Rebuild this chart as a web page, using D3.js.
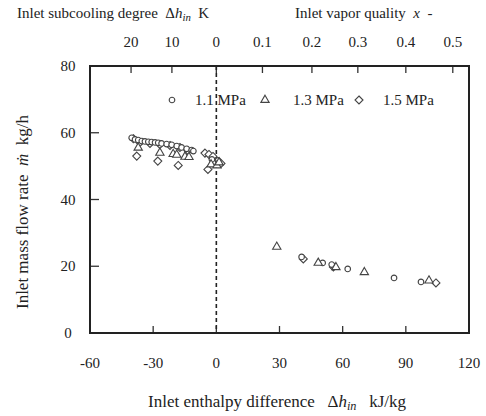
<!DOCTYPE html>
<html><head><meta charset="utf-8">
<script src="https://cdn.jsdelivr.net/npm/d3@7"></script>
<style>body{margin:0;background:#fff}svg{display:block}text{font-family:"Liberation Serif","DejaVu Serif",serif;fill:#222}</style>
</head><body><svg id="c" width="486" height="416"></svg>
<script>
// data: [enthalpy difference kJ/kg, mass flow kg/h]
const p11 = [[-40.2,58.5],[-38.6,58.0],[-37.1,57.8],[-35.4,57.5],[-33.9,57.4],[-32.3,57.3],[-30.7,57.2],[-29.1,57.1],[-27.6,57.0],[-26.0,56.8],[-23.6,56.6],[-21.2,56.4],[-18.8,56.0],[-16.5,55.6],[-14.1,55.2],[-11.7,54.8],[-10.9,54.5],[-2.1,52.0],[0.8,51.7],[40.5,22.8],[50.5,21.0],[54.8,20.5],[62.4,19.2],[84.4,16.5],[97.2,15.3]];
const p13 = [[-37.1,55.5],[-26.8,54.0],[-20.5,53.6],[-18.8,53.4],[-14.9,52.8],[-13.0,52.7],[-2.5,50.5],[0.3,50.2],[1.3,51.1],[28.7,25.8],[48.4,21.0],[56.8,19.7],[70.3,18.2],[101.0,15.7]];
const p15 = [[-39.4,58.2],[-36.3,57.1],[-31.5,56.8],[-26.8,56.5],[-22.0,56.2],[-17.3,55.6],[-13.5,54.7],[-37.8,53.0],[-27.8,51.5],[-18.1,50.2],[-5.4,53.9],[-3.5,53.5],[-1.6,52.9],[-4.0,49.0],[2.2,50.8],[41.3,22.2],[55.6,19.8],[104.3,15.0]];
const xTicks = [-60,-30,0,30,60,90,120];
const yTicks = [0,20,40,60,80];
const topLabels = ["20","10","0","0.1","0.2","0.3","0.4","0.5"];
const topPos = [-40.5,-21.1,0,21.9,45.4,67.2,90,112.3];
const legendNames = ["1.1 MPa","1.3 MPa","1.5 MPa"];

const svg = d3.select("#c");
const L=90,R=469,T=66,B=333;
const x = d3.scaleLinear().domain([-60,120]).range([L,R]);
const y = d3.scaleLinear().domain([0,80]).range([B,T]);
const S="\u00a0";

// ticks
const g = svg.append("g");
g.selectAll(".xt").data(xTicks.slice(1,-1)).join("line")
 .attr("x1",d=>x(d)).attr("x2",d=>x(d)).attr("y1",B).attr("y2",B-7).attr("stroke","#333").attr("stroke-width",1.3);
g.selectAll(".yt").data(yTicks.slice(1,-1)).join("line")
 .attr("y1",d=>y(d)).attr("y2",d=>y(d)).attr("x1",L).attr("x2",L+9).attr("stroke","#333").attr("stroke-width",1.3);
g.selectAll(".tt").data(topPos).join("line")
 .attr("x1",d=>x(d)).attr("x2",d=>x(d)).attr("y1",T).attr("y2",T+7).attr("stroke","#333").attr("stroke-width",1.3);

// dashed zero line
svg.append("line").attr("x1",x(0)).attr("x2",x(0)).attr("y1",T).attr("y2",B)
 .attr("stroke","#222").attr("stroke-width",1.6).attr("stroke-dasharray","4,3");

// frame
svg.append("rect").attr("x",L).attr("y",T).attr("width",R-L).attr("height",B-T)
 .attr("fill","none").attr("stroke","#222").attr("stroke-width",2);

// tick labels
svg.selectAll(".xl").data(xTicks).join("text").attr("x",d=>x(d)).attr("y",368)
 .attr("text-anchor","middle").attr("font-size",15).text(d=>d);
svg.selectAll(".yl").data(yTicks).join("text").attr("x",68).attr("y",d=>y(d)+5)
 .attr("text-anchor","middle").attr("font-size",15).text(d=>d);
svg.selectAll(".tl").data(topLabels).join("text").attr("x",(d,i)=>x(topPos[i])).attr("y",47)
 .attr("text-anchor","middle").attr("font-size",15).text(d=>d);

// markers
const stroke="#444";
function circ(sel){sel.append("circle").attr("r",2.8).attr("fill","#fff").attr("stroke",stroke).attr("stroke-width",1.1);}
const triPath=d3.symbol().type(d3.symbolTriangle).size(30);
const diaPath="M0,-4L4,0L0,4L-4,0Z";
function tri(sel){sel.append("path").attr("d",triPath).attr("fill","#fff").attr("stroke",stroke).attr("stroke-width",1.1);}
function dia(sel){sel.append("path").attr("d",diaPath).attr("fill","#fff").attr("stroke",stroke).attr("stroke-width",1.1);}
const pts = svg.append("g");
pts.selectAll(".p15").data(p15).join("g").attr("transform",d=>`translate(${x(d[0])},${y(d[1])})`).call(dia);
pts.selectAll(".p11").data(p11).join("g").attr("transform",d=>`translate(${x(d[0])},${y(d[1])})`).call(circ);
pts.selectAll(".p13").data(p13).join("g").attr("transform",d=>`translate(${x(d[0])},${y(d[1])})`).call(tri);

// legend
const lg=[{mx:172,tx:195,f:circ},{mx:265,tx:293,f:tri},{mx:359,tx:383,f:dia}];
lg.forEach((o,i)=>{
  svg.append("g").attr("transform",`translate(${o.mx},100)`).call(o.f);
  svg.append("text").attr("x",o.tx).attr("y",105).attr("font-size",15).text(legendNames[i]);
});

// axis titles
function dh(t,xx,yy,fs,pre,rest){
  const tx=t.append("text").attr("x",xx).attr("y",yy).attr("font-size",fs);
  tx.append("tspan").text(pre);
  tx.append("tspan").text("Δ");
  tx.append("tspan").attr("font-style","italic").text("h");
  tx.append("tspan").attr("font-style","italic").attr("font-size",fs*0.72).attr("dy",3).text("in");
  tx.append("tspan").attr("dy",-3).text(rest);
  return tx;
}
dh(svg,148,407,17,"Inlet enthalpy difference"+S+S+S,S+S+S+"kJ/kg");
dh(svg,17,18,15,"Inlet subcooling degree"+S+S,S+S+"K");
const vq=svg.append("text").attr("x",295).attr("y",18).attr("font-size",15);
vq.append("tspan").text("Inlet vapor quality"+S+S);
vq.append("tspan").attr("font-style","italic").text("x");
vq.append("tspan").text(S+S+"-");
const yt=svg.append("text").attr("transform","translate(28,212) rotate(-90)").attr("text-anchor","middle").attr("font-size",17);
yt.append("tspan").text("Inlet mass flow rate"+S+S);
yt.append("tspan").attr("font-style","italic").text("ṁ");
yt.append("tspan").text(S+S+"kg/h");
</script></body></html>
